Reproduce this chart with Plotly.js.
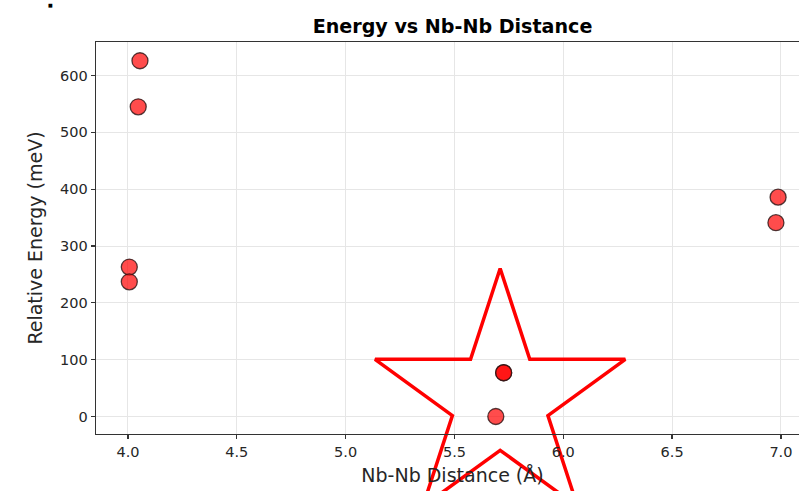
<!DOCTYPE html>
<html>
<head>
<meta charset="utf-8">
<script src="https://cdn.plot.ly/plotly-3.0.1.min.js"></script>
<style>
html, body { margin: 0; padding: 0; width: 799px; height: 491px; overflow: hidden; background: #fff; }
#chart { width: 815px; height: 491px; }
</style>
</head>
<body>
<div id="chart"></div>
<script>
// Data
const distances = [4.055, 4.047, 4.006, 4.006, 5.726, 5.726, 5.690, 6.987, 6.977];
const energies  = [626, 545, 263, 237, 77, 77, 0, 386, 341];
const highlightX = [5.71];
const highlightY = [29];
const xTicks = [4.0, 4.5, 5.0, 5.5, 6.0, 6.5, 7.0];
const xTickLabels = ["4.0", "4.5", "5.0", "5.5", "6.0", "6.5", "7.0"];
const yTicks = [0, 100, 200, 300, 400, 500, 600];
const yTickLabels = ["0", "100", "200", "300", "400", "500", "600"];

const font = "DejaVu Sans, sans-serif";

const traces = [
  {
    type: "scatter",
    mode: "markers",
    x: distances,
    y: energies,
    marker: {
      size: 16,
      color: "rgba(255,0,0,0.7)",
      line: { color: "rgba(40,20,20,0.8)", width: 1.3 }
    },
    cliponaxis: false,
    hoverinfo: "skip",
    showlegend: false
  },
  {
    type: "scatter",
    mode: "markers",
    x: highlightX,
    y: highlightY,
    marker: {
      symbol: "star-open",
      size: 188,
      color: "#ff0000",
      line: { color: "#ff0000", width: 3.5 }
    },
    cliponaxis: false,
    hoverinfo: "skip",
    showlegend: false
  }
];

const axisCommon = {
  showline: true,
  linecolor: "#333333",
  linewidth: 1.3,
  mirror: true,
  ticks: "outside",
  ticklen: 4,
  tickwidth: 1.2,
  tickcolor: "#333333",
  showgrid: true,
  gridcolor: "#e6e6e6",
  gridwidth: 1,
  zeroline: false,
  tickfont: { family: font, size: 14.5, color: "#262626" }
};

const layout = {
  width: 815,
  height: 491,
  margin: { l: 96, r: 6, t: 42, b: 57 },
  paper_bgcolor: "#ffffff",
  plot_bgcolor: "#ffffff",
  title: {
    text: "<b>Energy vs Nb-Nb Distance</b>",
    font: { family: font, size: 19.1, color: "#000000" },
    x: 0.5, xref: "paper", xanchor: "center",
    y: 0.947, yref: "container", yanchor: "middle"
  },
  xaxis: Object.assign({}, axisCommon, {
    range: [3.853, 7.129],
    tickvals: xTicks,
    ticktext: xTickLabels,
    title: { text: "Nb-Nb Distance (Å)", font: { family: font, size: 19, color: "#262626" }, standoff: 10 }
  }),
  yaxis: Object.assign({}, axisCommon, {
    range: [-30.8, 659],
    tickvals: yTicks,
    ticktext: yTickLabels,
    title: { text: "Relative Energy (meV)", font: { family: font, size: 19, color: "#262626" }, standoff: 12 }
  }),
  annotations: [
    {
      text: "■", xref: "paper", yref: "paper",
      x: -0.064, y: 1.094, xanchor: "center", yanchor: "middle",
      showarrow: false, font: { family: font, size: 5, color: "#000000" }
    }
  ]
};

Plotly.newPlot("chart", traces, layout, { displayModeBar: false, staticPlot: true });
</script>
</body>
</html>
